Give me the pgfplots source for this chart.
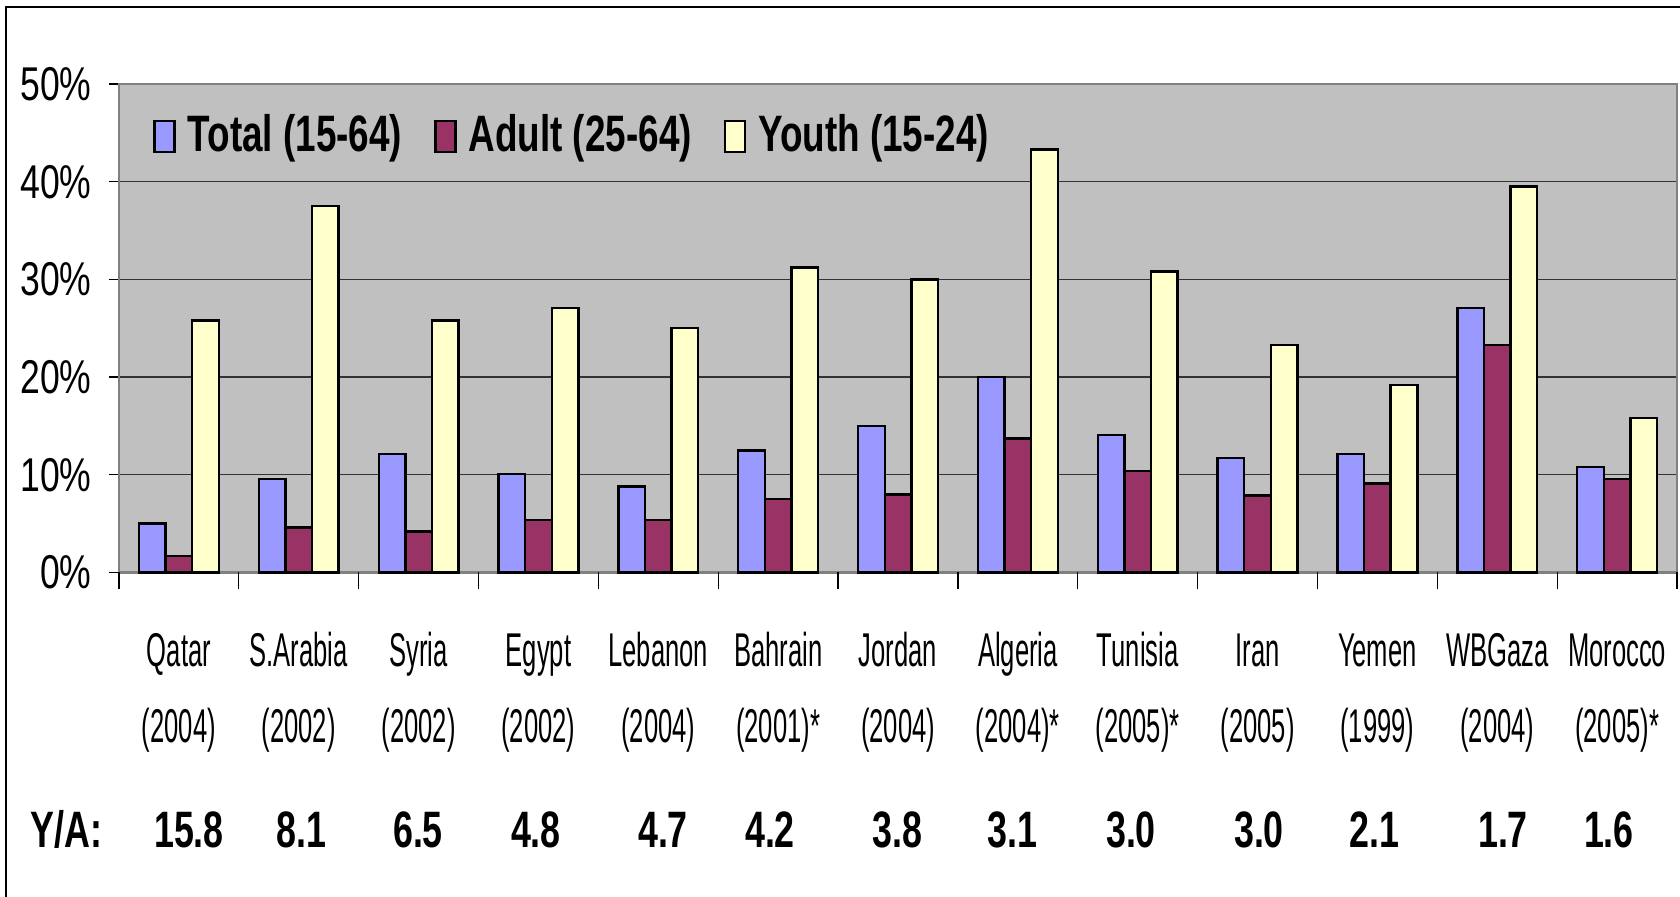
\documentclass[border=0pt]{standalone}
\usepackage{fontspec}
\setmainfont{Liberation Sans}
\newfontfamily\tickfont{Liberation Sans}[FakeStretch=0.75]
\newfontfamily\catfont{Liberation Sans}[FakeStretch=0.54]
\newfontfamily\boldfont{Liberation Sans}[FakeStretch=0.70]
\newfontfamily\legfont{Liberation Sans}[FakeStretch=0.72]
\usepackage{pgfplots}
\usepackage{pgfplotstable}
\pgfplotsset{compat=1.18}
\definecolor{cTotal}{HTML}{9999FF}
\definecolor{cAdult}{HTML}{993366}
\definecolor{cYouth}{HTML}{FFFFCC}
\definecolor{plotbg}{HTML}{C0C0C0}
\definecolor{bordergray}{HTML}{808080}
\newcommand\catf{\fontsize{23.7}{28}\selectfont\catfont}
\newcommand\yaf{\fontsize{25.6}{30}\selectfont\boldfont\bfseries}
\newcommand\legf{\fontsize{25.6}{30}\selectfont\legfont\bfseries}
\newcommand\cat[3]{%
  \node[anchor=base,font=\catf,inner sep=0pt] at (axis cs:#1,-9.67) {#2};
  \node[anchor=base,font=\catf,inner sep=0pt] at (axis cs:#1,-17.45) {#3};
}
\newcommand\ya[2]{\node[anchor=base,font=\yaf,inner sep=0pt] at (axis cs:#1,-28.1) {#2};}

\pgfplotstableread{
x total adult youth
0 5.0 1.7 25.8
1 9.6 4.6 37.5
2 12.1 4.2 25.8
3 10.1 5.4 27.1
4 8.8 5.4 25.0
5 12.5 7.5 31.2
6 15.0 8.0 30.0
7 20.0 13.7 43.3
8 14.1 10.4 30.8
9 11.7 7.9 23.3
10 12.1 9.1 19.2
11 27.1 23.3 39.5
12 10.8 9.6 15.8
}\data

\begin{document}
\begin{tikzpicture}
\useasboundingbox (-59.5pt,-162.25pt) rectangle (780.5pt,286.25pt);
\draw[black, line width=0.8pt] (-56.5pt,-200pt) -- (-56.5pt,282.75pt) -- (800pt,282.75pt);
\begin{axis}[
  at={(0,0)}, anchor=south west,
  scale only axis, width=779pt, height=244.25pt,
  ymin=0, ymax=50, xmin=-0.5, xmax=12.5,
  ybar=0pt, bar width=13.3pt,
  axis background/.style={fill=plotbg},
  axis line style={draw=bordergray, line width=1.2pt},
  ytick={0,10,20,30,40,50},
  yticklabels={0\%,10\%,20\%,30\%,40\%,50\%},
  yticklabel style={font=\fontsize{23.7}{28}\selectfont\tickfont, anchor=east, inner sep=0pt, xshift=-8.5pt},
  ymajorgrids, grid style={black!80, line width=0.6pt},
  xtick=\empty,
  extra x ticks={-0.5,0.5,1.5,2.5,3.5,4.5,5.5,6.5,7.5,8.5,9.5,10.5,11.5,12.5},
  extra x tick labels={},
  extra x tick style={major tick length=8.5pt, grid=none},
  tick align=outside, major tick length=5pt,
  ytick pos=left, xtick pos=bottom,
  tick style={black, line width=0.6pt},
  clip=false,
  legend columns=3,
  legend cell align=left,
  legend style={draw=none, fill=none, at={(0.0218,0.939)}, anchor=north west,
    inner sep=0pt, font=\legf,
    /tikz/every odd column/.append style={column sep=6pt},
    /tikz/every even column/.append style={column sep=16pt},
    nodes={inner sep=0pt}},
  legend image code/.code={\draw[#1, line width=1.2pt] (0pt,-9pt) rectangle (10pt,6.5pt);},
]
\addplot[fill=cTotal, draw=black, line width=1.2pt] table[x=x,y=total]{\data};
\addplot[fill=cAdult, draw=black, line width=1.2pt] table[x=x,y=adult]{\data};
\addplot[fill=cYouth, draw=black, line width=1.2pt] table[x=x,y=youth]{\data};
\addlegendentry{Total (15-64)}
\addlegendentry{Adult (25-64)}
\addlegendentry{Youth (15-24)}
\cat{0}{Qatar}{(2004)}
\cat{1}{S.Arabia}{(2002)}
\cat{2}{Syria}{(2002)}
\cat{3}{Egypt}{(2002)}
\cat{4}{Lebanon}{(2004)}
\cat{5}{Bahrain}{(2001)*}
\cat{6}{Jordan}{(2004)}
\cat{7}{Algeria}{(2004)*}
\cat{8}{Tunisia}{(2005)*}
\cat{9}{Iran}{(2005)}
\cat{10}{Yemen}{(1999)}
\cat{11}{WBGaza}{(2004)}
\cat{12}{Morocco}{(2005)*}
\node[anchor=base west,font=\yaf,inner sep=0pt] at (axis cs:-1.2426,-28.1) {Y/A:};
\ya{0.084}{15.8}
\ya{1.024}{8.1}
\ya{1.995}{6.5}
\ya{2.979}{4.8}
\ya{4.039}{4.7}
\ya{4.932}{4.2}
\ya{5.992}{3.8}
\ya{6.955}{3.1}
\ya{7.944}{3.0}
\ya{9.012}{3.0}
\ya{9.972}{2.1}
\ya{11.048}{1.7}
\ya{11.932}{1.6}
\end{axis}
\end{tikzpicture}
\end{document}
